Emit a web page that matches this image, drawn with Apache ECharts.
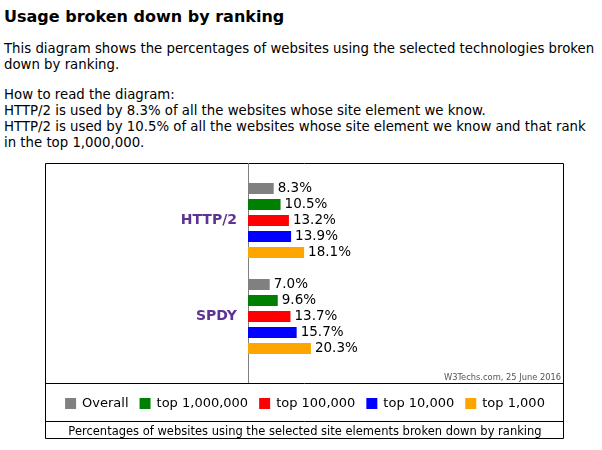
<!DOCTYPE html>
<html>
<head>
<meta charset="utf-8">
<script src="https://cdn.jsdelivr.net/npm/echarts@6/dist/echarts.min.js"></script>
<style>
  body{margin:0;background:#fff;font-family:"DejaVu Sans",Verdana,sans-serif;color:#000;}
  .t{position:absolute;left:4px;font-size:13.3px;line-height:16px;white-space:nowrap;}
  h2{position:absolute;left:4px;top:7px;margin:0;font-size:16px;line-height:20px;font-weight:bold;}
  #chart{position:absolute;left:45px;top:163px;width:520px;height:277px;}
</style>
</head>
<body>
<h2>Usage broken down by ranking</h2>
<div class="t" style="top:41px">This diagram shows the percentages of websites using the selected technologies broken</div>
<div class="t" style="top:57px">down by ranking.</div>
<div class="t" style="top:87px">How to read the diagram:</div>
<div class="t" style="top:103px">HTTP/2 is used by 8.3% of all the websites whose site element we know.</div>
<div class="t" style="top:119px">HTTP/2 is used by 10.5% of all the websites whose site element we know and that rank</div>
<div class="t" style="top:135px">in the top 1,000,000.</div>
<div id="chart"></div>
<script>
"use strict";

// data
var categories=["HTTP/2","SPDY"];
var rankNames=["Overall","top 1,000,000","top 100,000","top 10,000","top 1,000"];
var rankColors=["#808080","#008000","#ff0000","#0000ff","#ffa500"];
var overall=[8.3,7.0];
var top1m=[10.5,9.6];
var top100k=[13.2,13.7];
var top10k=[13.9,15.7];
var top1k=[18.1,20.3];
var values=[overall,top1m,top100k,top10k,top1k];

var font='"DejaVu Sans", Verdana, sans-serif';
var chart=echarts.init(document.getElementById("chart"));

var series=values.map(function(v,i){
  return {
    name:rankNames[i],
    type:"bar",
    data:v,
    barWidth:11,
    barGap:"45.45%",
    itemStyle:{color:rankColors[i]},
    label:{
      show:true,position:"right",distance:4,
      formatter:function(p){return p.value.toFixed(1)+"%";},
      color:"#000",fontSize:13.5,fontFamily:font
    },
    silent:true
  };
});

chart.setOption({
  animation:false,
  grid:{left:203,right:7,top:9.5,height:192,containLabel:false},
  xAxis:{type:"value",min:0,max:100,show:false},
  yAxis:{
    type:"category",data:categories,inverse:true,
    axisLine:{show:false},axisTick:{show:false},
    axisLabel:{margin:11,color:"#5f3391",fontWeight:"bold",fontSize:14,fontFamily:font}
  },
  legend:{
    data:rankNames,left:"center",top:229,
    itemWidth:11,itemHeight:11,itemGap:11,
    icon:"rect",
    textStyle:{fontSize:13,fontFamily:font,color:"#000",padding:[0,0,0,1]},
    selectedMode:false
  },
  graphic:[
    {type:"rect",shape:{x:0.5,y:0.5,width:518,height:275},style:{fill:null,stroke:"#000",lineWidth:1},silent:true},
    {type:"line",shape:{x1:203.5,y1:0,x2:203.5,y2:220},style:{stroke:"#808080",lineWidth:1},silent:true},
    {type:"line",shape:{x1:0,y1:220.5,x2:519,y2:220.5},style:{stroke:"#000",lineWidth:1},silent:true},
    {type:"line",shape:{x1:0,y1:258.5,x2:519,y2:258.5},style:{stroke:"#000",lineWidth:1},silent:true},
    {type:"text",right:4,top:211,style:{text:"W3Techs.com, 25 June 2016",fontSize:8.3,fontFamily:font,fill:"#555"},silent:true},
    {type:"text",left:"center",top:263,style:{text:"Percentages of websites using the selected site elements broken down by ranking",fontSize:11.5,fontFamily:font,fill:"#000"},silent:true}
  ],
  series:series
});
</script>
</body>
</html>
